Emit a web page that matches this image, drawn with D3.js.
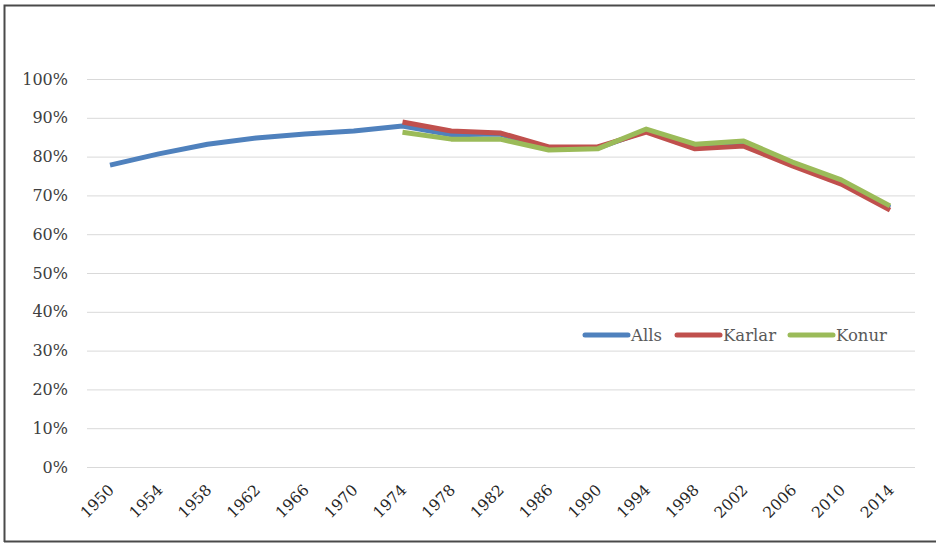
<!DOCTYPE html>
<html>
<head>
<meta charset="utf-8">
<script src="https://cdn.jsdelivr.net/npm/d3@7"></script>
<style>
  body { margin: 0; background: #fff; }
  text { font-family: "DejaVu Serif", "Liberation Serif", serif; }
</style>
</head>
<body>
<svg width="936" height="543"></svg>
<script>
var years = ["1950","1954","1958","1962","1966","1970","1974","1978","1982","1986","1990","1994","1998","2002","2006","2010","2014"];
var alls   = [77.8, 80.7, 83.2, 84.8, 85.8, 86.6, 87.9, 85.6, 85.8, 82.2, 82.2, 86.6, 82.5, 83.2, 78.1, 73.5, 66.8];
var karlar = [null, null, null, null, null, null, 88.9, 86.6, 86.1, 82.5, 82.5, 86.3, 82.0, 82.7, 77.6, 72.9, 66.2];
var konur  = [null, null, null, null, null, null, 86.3, 84.5, 84.5, 81.7, 82.0, 87.1, 83.2, 84.0, 78.6, 74.0, 67.3];
var yTicks = [0, 10, 20, 30, 40, 50, 60, 70, 80, 90, 100];
var seriesNames = ["Alls", "Karlar", "Konur"];
var colors = ["#4F81BD", "#C0504D", "#9BBB59"];

var svg = d3.select("svg");

// chart border
svg.append("path")
   .attr("d", "M4.5,542 L4.5,5.5 L935,5.5")
   .attr("fill", "none")
   .attr("stroke", "#4a4a4a")
   .attr("stroke-width", 2);
svg.append("line")
   .attr("x1", 4).attr("x2", 936).attr("y1", 541.5).attr("y2", 541.5)
   .attr("stroke", "#4a4a4a").attr("stroke-width", 2);

var scaleX = d3.scalePoint()
               .domain(years)
               .range([110, 890]);

var scaleY = d3.scaleLinear()
               .domain([0, 100])
               .range([467, 79]);

// gridlines
svg.append("g")
   .selectAll("line")
   .data(yTicks)
   .enter()
   .append("line")
   .attr("x1", 87)
   .attr("x2", 915)
   .attr("y1", function(d) { return scaleY(d) + 0.5 })
   .attr("y2", function(d) { return scaleY(d) + 0.5 })
   .attr("stroke", "#d9d9d9")
   .attr("stroke-width", 1);

// y labels
svg.append("g")
   .selectAll("text")
   .data(yTicks)
   .enter()
   .append("text")
   .attr("x", 68)
   .attr("y", function(d) { return scaleY(d) + 5.5 })
   .attr("text-anchor", "end")
   .attr("font-size", 16)
   .attr("fill", "#404040")
   .text(function(d) { return d + "%" });

// x labels, rotated
svg.append("g")
   .selectAll("text")
   .data(years)
   .enter()
   .append("text")
   .attr("transform", function(d) { return "translate(" + (scaleX(d) + 5) + ",491) rotate(-45)" })
   .attr("text-anchor", "end")
   .attr("font-size", 15.5)
   .attr("fill", "#262626")
   .text(function(d) { return d });

var line = d3.line()
             .defined(function(d) { return d != null })
             .x(function(d, i) { return scaleX(years[i]) })
             .y(function(d) { return scaleY(d) });

[alls, karlar, konur].forEach(function(s, k) {
  svg.append("path")
     .datum(s)
     .attr("d", line)
     .attr("fill", "none")
     .attr("stroke", colors[k])
     .attr("stroke-width", 5)
     .attr("stroke-linejoin", "round");
});

// legend
var legendX = [585, 677, 790];
seriesNames.forEach(function(n, k) {
  svg.append("line")
     .attr("x1", legendX[k]).attr("x2", legendX[k] + 43)
     .attr("y1", 335).attr("y2", 335)
     .attr("stroke", colors[k])
     .attr("stroke-width", 5)
     .attr("stroke-linecap", "round");
  svg.append("text")
     .attr("x", legendX[k] + 46)
     .attr("y", 341)
     .attr("font-size", 16.5)
     .attr("fill", "#595959")
     .text(n);
});
</script>
</body>
</html>
